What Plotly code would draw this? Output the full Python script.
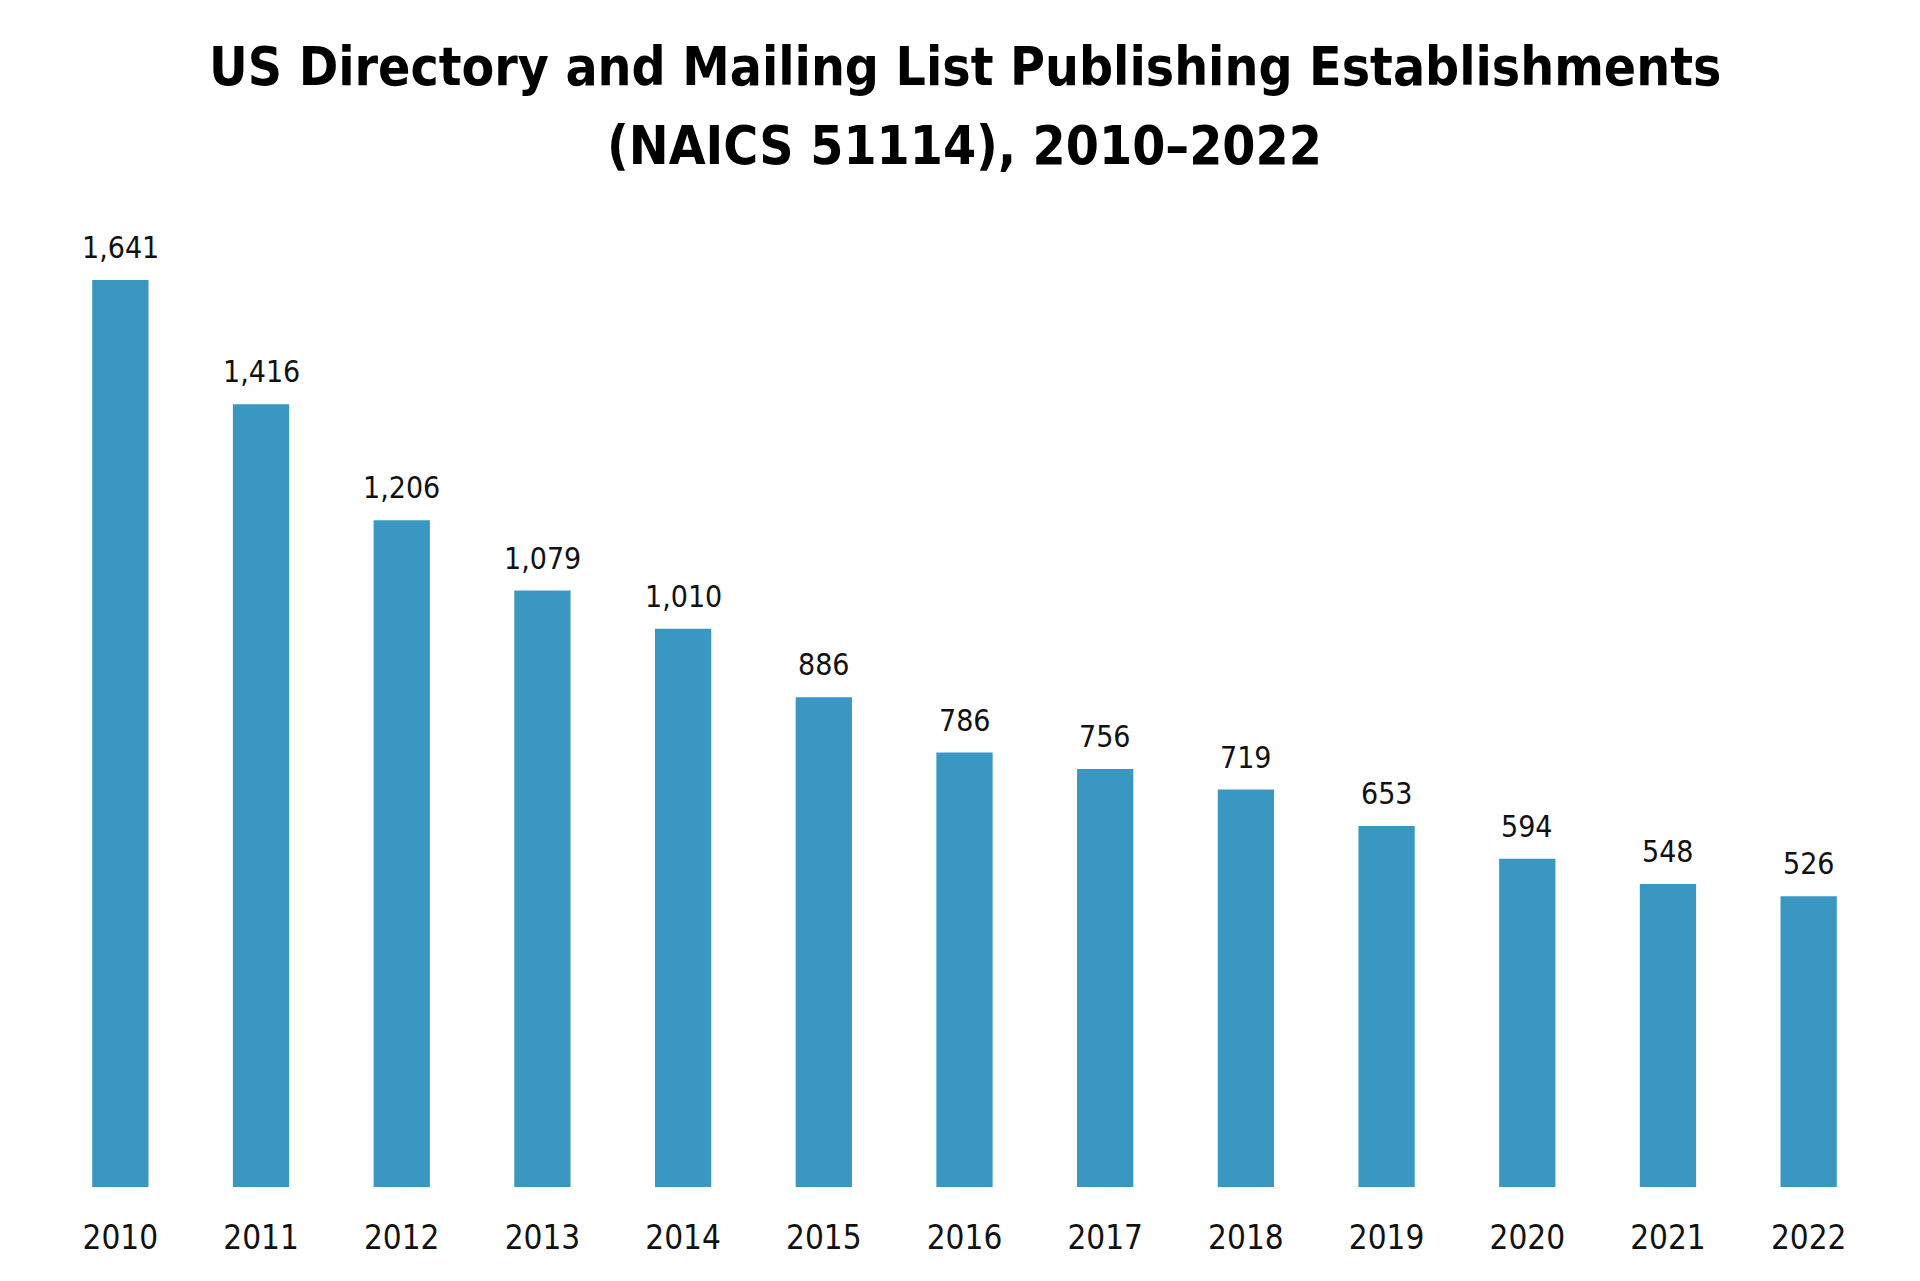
import plotly.graph_objects as go

years = ["2010", "2011", "2012", "2013", "2014", "2015", "2016",
         "2017", "2018", "2019", "2020", "2021", "2022"]
establishments = [1641, 1416, 1206, 1079, 1010, 886, 786, 756, 719, 653, 594, 548, 526]

title_lines = ["US Directory and Mailing List Publishing Establishments",
               "(NAICS 51114), 2010\u20132022"]
bar_color = "#3A97C1"
font_family = "DejaVu Sans Condensed, Roboto, sans-serif"

fig = go.Figure()
fig.add_trace(go.Bar(
    x=years, y=establishments,
    marker=dict(color=bar_color, line=dict(width=0)),
    hoverinfo="x+y",
))

for i, v in enumerate(establishments):
    fig.add_annotation(
        x=i, y=v, xref="x", yref="y", text=f"{v:,}", showarrow=False,
        yanchor="bottom", yshift=13,
        font=dict(family=font_family, size=30, color="#111111"),
    )

# Title lines as annotations (paper coordinates above plot area)
for txt, yp in zip(title_lines, [1.1266, 1.0472]):
    fig.add_annotation(
        x=0.5, y=yp, xref="paper", yref="paper", text=txt, showarrow=False,
        xanchor="center", yanchor="middle",
        font=dict(family=font_family, size=53, color="#000000", weight="bold"),
    )

fig.update_layout(
    width=1920, height=1281,
    paper_bgcolor="white", plot_bgcolor="white",
    margin=dict(l=50, r=41, t=192, b=94),
    bargap=0.6,
    showlegend=False,
    xaxis=dict(
        type="category", range=[-0.5, 12.5],
        showgrid=False, showline=False, zeroline=False,
        ticks="outside", ticklen=21, tickcolor="rgba(0,0,0,0)",
        tickfont=dict(family=font_family, size=33, color="#111111"),
    ),
    yaxis=dict(
        range=[0, 1800], visible=False, showgrid=False, zeroline=False,
    ),
)

fig.write_html("out.html")
